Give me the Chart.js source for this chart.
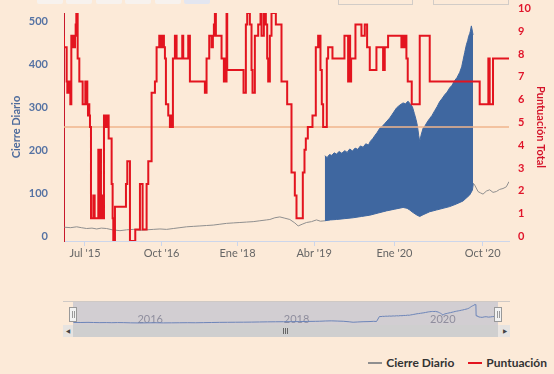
<!DOCTYPE html>
<html>
<head>
<meta charset="utf-8">
<script src="https://cdn.jsdelivr.net/npm/chart.js@4.4.1/dist/chart.umd.min.js"></script>
<style>
    html, body {
        margin: 0;
        padding: 0;
        width: 554px;
        height: 374px;
        overflow: hidden;
        background: #fcead8;
        font-family: Lato, 'DejaVu Sans Condensed', sans-serif;
    }
    #principal { position: absolute; left: 0; top: 0; }
    #nav { position: absolute; left: 63px; top: 301px; }
    .btn { position: absolute; top: -8px; width: 26px; height: 12px; border-radius: 2px; background: #f7f2ee; }
    .caja { position: absolute; top: -8px; height: 11px; border: 1px solid #d2ccc7; }
    .scroll { position: absolute; top: 325px; height: 12px; }
    #leyenda { position: absolute; right: 7px; top: 355px; white-space: nowrap; font-size: 12px; font-weight: bold; color: #333; }
    #leyenda i { display: inline-block; width: 14px; height: 2px; vertical-align: middle; margin-right: 4px; margin-top: -2px; }
</style>
</head>
<body>
<!-- botones de rango y fechas, cortados arriba -->
<div class="btn" style="left:37px"></div>
<div class="btn" style="left:66px"></div>
<div class="btn" style="left:96px"></div>
<div class="btn" style="left:125px"></div>
<div class="btn" style="left:155px"></div>
<div class="btn" style="left:184px;background:#e3e6f0"></div>
<div class="caja" style="left:338px;width:73px"></div>
<div class="caja" style="left:433px;width:74px"></div>

<canvas id="principal" width="554" height="268"></canvas>
<canvas id="nav" width="447" height="24"></canvas>

<!-- scrollbar -->
<div class="scroll" style="left:63px;width:447px;background:#e9e5e2"></div>
<div class="scroll" style="left:73px;width:425px;background:#cfcfcf"></div>
<div class="scroll" style="left:63px;width:10px;background:#e6e3e0;font-size:6px;color:#444;text-align:center;line-height:12px">&#9664;</div>
<div class="scroll" style="left:500px;width:10px;background:#e6e3e0;font-size:6px;color:#444;text-align:center;line-height:12px">&#9654;</div>
<div class="scroll" style="left:283px;width:1px;top:328px;height:6px;background:#666"></div>
<div class="scroll" style="left:285px;width:1px;top:328px;height:6px;background:#666"></div>
<div class="scroll" style="left:287px;width:1px;top:328px;height:6px;background:#666"></div>

<div id="leyenda"><i style="background:#8f8f8f"></i>Cierre Diario<i style="background:#e3141f;margin-left:14px"></i>Puntuación</div>

<script>
const FUENTE = "Lato, 'DejaVu Sans Condensed', sans-serif"

// eje ordinal (sesiones) y sus etiquetas
const ticksSes = [63, 293, 521, 751, 992, 1257]
const ticksTexto = ["Jul '15", "Oct '16", "Ene '18", "Abr '19", "Ene '20", "Oct '20"]
const ordinalSes = [0, 63, 293, 521, 751, 992, 1257, 1336]
const ordinalAnio = [2015.16, 2015.5, 2016.75, 2018, 2019.25, 2020, 2020.75, 2020.97]
const navAnios = [2016, 2018, 2020]

// Puntuación total (escalones)
const puntSes = [0, 8, 10, 13, 16, 19, 22, 26, 29, 31, 33, 35, 37, 41, 46, 56, 64, 70, 72, 74, 76, 78, 81, 88, 92, 103, 105, 108, 111, 113, 115, 120, 123, 126, 129, 132, 134, 143, 146, 148, 153, 186, 190, 198, 214, 228, 236, 248, 253, 263, 273, 278, 286, 289, 293, 295, 298, 300, 303, 306, 313, 318, 321, 324, 327, 333, 338, 355, 358, 373, 378, 423, 428, 436, 443, 447, 450, 453, 456, 473, 480, 483, 486, 488, 490, 539, 546, 550, 558, 563, 566, 573, 583, 590, 593, 600, 606, 610, 613, 618, 623, 636, 653, 670, 683, 693, 698, 717, 722, 726, 732, 746, 756, 763, 766, 768, 770, 774, 778, 789, 793, 806, 842, 853, 856, 859, 862, 875, 893, 903, 910, 918, 938, 958, 963, 973, 1013, 1017, 1020, 1025, 1028, 1032, 1044, 1068, 1098, 1248, 1274, 1278, 1288, 1304, 1336]
const puntVal = [9, 8.5, 7, 6.5, 7, 6.5, 6, 9, 8.5, 9, 8.5, 9, 9.5, 10, 8, 7, 6, 7, 6, 5.5, 6, 5.5, 5, 1, 2, 1, 4, 1, 4, 1, 2, 1, 5.5, 5, 5.5, 5, 5.5, 4.5, 2.5, 1, 0, 1.5, 2.5, 3.5, 0, 0.5, 2.5, 0.5, 2.5, 3.5, 6.5, 7, 8.5, 9, 8.5, 9, 8.5, 9, 8.5, 8, 6, 5.5, 5, 5.5, 5, 8, 9, 8, 9, 8, 9, 7, 6.5, 8, 9, 8.5, 9, 9.5, 10, 9, 8, 7, 8, 7, 10, 7.5, 6.5, 9.5, 10, 9.5, 7.5, 6.5, 9, 9.5, 10, 9, 10, 9.5, 8, 7, 9, 10, 9.5, 7, 6, 3, 2, 1, 3, 4, 4.5, 5, 5.5, 8.5, 9, 8.5, 9, 7.5, 6, 5, 8, 8.5, 8, 9, 7, 9, 7, 8, 9.5, 9, 9.5, 8.5, 7.5, 8.5, 7.5, 8.5, 9, 8.5, 9, 8.5, 9, 8, 7, 6, 9, 7, 6, 8, 6, 8, 8]

// Cierre diario
const cierreSes = [1, 20, 38, 52, 68, 84, 98, 112, 128, 145, 168, 188, 208, 228, 248, 268, 288, 308, 328, 348, 368, 388, 408, 428, 448, 468, 488, 508, 528, 548, 568, 588, 608, 618, 633, 648, 663, 678, 693, 703, 715, 728, 743, 758, 770, 783, 800, 818, 843, 868, 893, 918, 943, 968, 993, 1018, 1030, 1038, 1048, 1060, 1068, 1078, 1098, 1118, 1138, 1158, 1178, 1198, 1218, 1226, 1229, 1233, 1243, 1250, 1258, 1268, 1278, 1288, 1298, 1308, 1318, 1328, 1336]
const cierreVal = [32, 31, 33, 31, 29, 30, 28, 30, 29, 26, 24, 26, 27, 25, 26, 27, 28, 27, 29, 31, 33, 34, 35, 36, 37, 39, 41, 42, 43, 44, 45, 47, 49, 50, 54, 56, 53, 50, 42, 35, 39, 43, 45, 49, 46, 47, 49, 50, 52, 54, 57, 60, 65, 70, 74, 78, 76, 72, 66, 60, 57, 61, 68, 72, 76, 80, 86, 93, 107, 118, 134, 130, 115, 112, 109, 116, 119, 113, 115, 120, 122, 126, 138]

// picos del cierre (zona azul)
const picosSes = [783, 790, 797, 804, 811, 818, 826, 834, 843, 850, 858, 866, 874, 882, 890, 898, 906, 914, 920, 927, 934, 940, 948, 955, 963, 970, 978, 985, 992, 998, 1005, 1012, 1018, 1025, 1033, 1040, 1046, 1052, 1057, 1061, 1065, 1068, 1072, 1078, 1084, 1090, 1098, 1105, 1113, 1120, 1128, 1135, 1143, 1150, 1158, 1165, 1173, 1180, 1188, 1194, 1198, 1203, 1208, 1212, 1215, 1218, 1220, 1223, 1226, 1228]
const picosVal = [198, 194, 201, 199, 205, 202, 208, 204, 210, 206, 214, 209, 216, 213, 221, 218, 226, 223, 232, 238, 246, 252, 262, 266, 273, 279, 286, 294, 302, 309, 314, 318, 321, 319, 325, 318, 312, 296, 282, 268, 245, 231, 246, 262, 268, 276, 285, 292, 303, 312, 324, 331, 340, 346, 356, 362, 373, 380, 392, 405, 420, 438, 456, 466, 476, 482, 488, 500, 488, 479]

const interp = (xs, ys, x) => {
    if (x <= xs[0]) return ys[0]
    for (let i = 1; i < xs.length; i++) {
        if (x <= xs[i]) {
            const t = (x - xs[i - 1]) / (xs[i] - xs[i - 1])
            return ys[i - 1] + t * (ys[i] - ys[i - 1])
        }
    }
    return ys[ys.length - 1]
}
const puntos = (xs, ys) => xs.map((x, i) => ({ x: x, y: ys[i] }))

const AZUL = '#3f67a0'
const GRIS = '#8f8f8f'
const ROJO = '#e3141f'
const inicioBanda = picosSes[0]
const finBanda = picosSes[picosSes.length - 1]

const sinRelleno = s => { s.paddingTop = 0; s.paddingBottom = 0 }

const lineaCinco = {
    id: 'lineaCinco',
    afterDatasetDraw(chart, args) {
        if (args.index !== 1) return
        const { ctx, chartArea, scales } = chart
        const y = scales.y1.getPixelForValue(5)
        ctx.save()
        ctx.strokeStyle = '#f0b58c'
        ctx.lineWidth = 1.5
        ctx.beginPath()
        ctx.moveTo(chartArea.left, y)
        ctx.lineTo(chartArea.right, y)
        ctx.stroke()
        ctx.restore()
    }
}

new Chart(document.getElementById('principal'), {
    type: 'line',
    data: {
        datasets: [{
                label: 'Puntuación',
                data: puntos(puntSes, puntVal),
                yAxisID: 'y1',
                borderColor: ROJO,
                borderWidth: 2,
                stepped: 'after',
                pointRadius: 0,
                order: 0
            },
            {
                label: 'picos',
                data: puntos(picosSes, picosVal),
                yAxisID: 'y',
                borderColor: AZUL,
                borderWidth: 1,
                backgroundColor: AZUL,
                fill: { target: 2 },
                pointRadius: 0,
                order: 1
            },
            {
                label: 'Cierre Diario',
                data: puntos(cierreSes, cierreVal),
                yAxisID: 'y',
                borderColor: GRIS,
                borderWidth: 1,
                pointRadius: 0,
                segment: {
                    borderColor: c => (c.p0.parsed.x >= inicioBanda && c.p1.parsed.x <= finBanda + 1) ? AZUL : GRIS
                },
                order: 2
            }
        ]
    },
    options: {
        responsive: false,
        animation: false,
        layout: { padding: { top: 13, left: 0, right: 0, bottom: 0 } },
        plugins: { legend: { display: false }, tooltip: { enabled: false } },
        scales: {
            x: {
                type: 'linear',
                min: 0,
                max: 1336,
                afterBuildTicks: s => { s.ticks = ticksSes.map(v => ({ value: v })) },
                afterFit: s => { s.height = 27; s.paddingLeft = 0; s.paddingRight = 0 },
                grid: { drawOnChartArea: false, color: '#ccd6eb', tickLength: 5 },
                border: { color: '#ccd6eb' },
                ticks: {
                    autoSkip: false,
                    maxRotation: 0,
                    padding: 1,
                    color: '#666',
                    font: { family: FUENTE, size: 11 },
                    callback: v => ticksTexto[ticksSes.indexOf(v)]
                }
            },
            y: {
                position: 'left',
                min: 0,
                max: 530,
                afterBuildTicks: s => { s.ticks = [0, 100, 200, 300, 400, 500].map(v => ({ value: v })) },
                afterFit: s => { s.width = 64; sinRelleno(s) },
                grid: { drawOnChartArea: false, drawTicks: false },
                border: { display: true, color: '#c8192b', width: 1 },
                ticks: { color: '#5572a3', padding: 16, labelOffset: -4.5, font: { family: FUENTE, size: 11, weight: 'bold' } },
                title: { display: true, text: 'Cierre Diario', color: '#4d6b9c', padding: { top: 10, bottom: 0 }, font: { family: FUENTE, size: 11, weight: 'bold' } }
            },
            y1: {
                position: 'right',
                min: 0,
                max: 10,
                afterBuildTicks: s => { s.ticks = [0, 1, 2, 3, 4, 5, 6, 7, 8, 9, 10].map(v => ({ value: v })) },
                afterFit: s => { s.width = 45; sinRelleno(s) },
                grid: { drawOnChartArea: false, drawTicks: false },
                border: { display: false },
                ticks: { color: '#e0142a', padding: 9, labelOffset: -4.5, font: { family: FUENTE, size: 11, weight: 'bold' } },
                title: { display: true, text: 'Puntuación Total', color: '#d4142a', padding: { top: 7, bottom: 0 }, font: { family: FUENTE, size: 11, weight: 'bold' } }
            }
        }
    },
    plugins: [lineaCinco]
})

// navegador: misma serie en años, agrupada (media de la oscilación)
const aAnio = s => interp(ordinalSes, ordinalAnio, s)
const navDatos = cierreSes.filter(s => s < inicioBanda || s > finBanda).map(s => ({ x: aAnio(s), y: interp(cierreSes, cierreVal, s) }))
    .concat(picosSes.map((s, i) => ({ x: aAnio(s), y: (picosVal[i] + interp(cierreSes, cierreVal, s)) / 2 })))
    .sort((a, b) => a.x - b.x)

const adornosNav = {
    id: 'adornosNav',
    beforeDatasetsDraw(chart) {
        const { ctx, chartArea } = chart
        ctx.save()
        ctx.fillStyle = 'rgba(102,133,194,0.28)'
        ctx.fillRect(chartArea.left, 0, chartArea.right - chartArea.left, chart.height)
        ctx.strokeStyle = '#cfc9c5'
        ctx.lineWidth = 1
        ctx.beginPath()
        ctx.moveTo(0, 0.5)
        ctx.lineTo(chart.width, 0.5)
        ctx.stroke()
        ctx.fillStyle = 'rgba(120,120,140,0.75)'
        ctx.font = '11px ' + FUENTE
        ctx.textBaseline = 'middle'
        navAnios.forEach(a => {
            ctx.fillText(String(a), chart.scales.x.getPixelForValue(a) + 3, 18)
        })
        ctx.restore()
    },
    afterDatasetsDraw(chart) {
        const { ctx, chartArea } = chart
        ctx.save()
        ;[chartArea.left, chartArea.right].forEach(x => {
            const px = Math.round(x)
            ctx.fillStyle = '#f2f2f2'
            ctx.strokeStyle = '#999'
            ctx.lineWidth = 1
            ctx.fillRect(px - 3.5, 6.5, 7, 14)
            ctx.strokeRect(px - 3.5, 6.5, 7, 14)
            ctx.beginPath()
            ctx.moveTo(px - 0.5, 10)
            ctx.lineTo(px - 0.5, 17)
            ctx.moveTo(px + 1.5, 10)
            ctx.lineTo(px + 1.5, 17)
            ctx.stroke()
        })
        ctx.restore()
    }
}

new Chart(document.getElementById('nav'), {
    type: 'line',
    data: {
        datasets: [{
            label: 'nav',
            data: navDatos,
            borderColor: '#6b84b8',
            borderWidth: 1,
            pointRadius: 0
        }]
    },
    options: {
        responsive: false,
        animation: false,
        layout: { padding: { left: 10, right: 12, top: 0, bottom: 0 } },
        plugins: { legend: { display: false }, tooltip: { enabled: false } },
        scales: {
            x: { type: 'linear', display: false, min: ordinalAnio[0], max: ordinalAnio[ordinalAnio.length - 1] },
            y: { display: false, min: -7, max: 358 }
        }
    },
    plugins: [adornosNav]
})
</script>
</body>
</html>
